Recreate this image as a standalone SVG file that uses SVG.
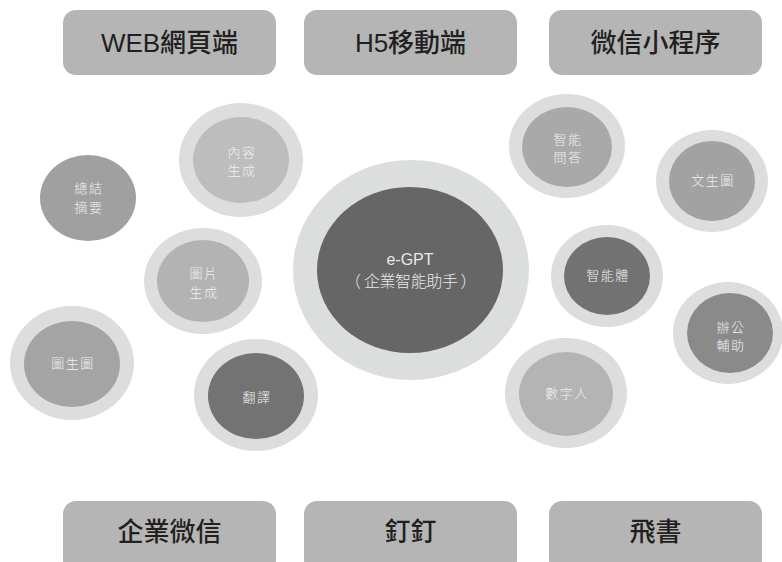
<svg xmlns="http://www.w3.org/2000/svg" width="782" height="562" viewBox="0 0 782 562">
<style>
.box{fill:#b5b5b5}
.btxt{font-family:"Liberation Sans","Noto Sans CJK TC",sans-serif;font-size:26px;fill:#231f20;text-anchor:middle;font-weight:500}
.ring{fill:#dcdddd}
.lbl{font-family:"Noto Sans CJK TC",sans-serif;font-size:13px;fill:#f0f0f0;text-anchor:middle;letter-spacing:1.5px;font-weight:300}
.ctr{font-family:"Liberation Sans","Noto Sans CJK TC",sans-serif;font-size:16px;fill:#e8e8e8;text-anchor:middle;font-weight:300}
.ctrc{font-family:"Noto Sans CJK TC",sans-serif;font-size:16px;fill:#e8e8e8;text-anchor:middle;font-weight:300}
</style>
<rect width="782" height="562" fill="#ffffff"/>
<g id="web"><rect class="box" x="63" y="10" width="213" height="65" rx="13"/><text class="btxt" x="169.5" y="52">WEB網頁端</text></g>
<g id="h5"><rect class="box" x="304" y="10" width="213" height="65" rx="13"/><text class="btxt" x="410.5" y="52">H5移動端</text></g>
<g id="miniprogram"><rect class="box" x="549" y="10" width="213" height="65" rx="13"/><text class="btxt" x="655.5" y="52">微信小程序</text></g>
<g id="wecom"><rect class="box" x="63" y="501" width="213" height="72" rx="13"/><text class="btxt" x="169.5" y="541">企業微信</text></g>
<g id="dingtalk"><rect class="box" x="304" y="501" width="213" height="72" rx="13"/><text class="btxt" x="410.5" y="541">釘釘</text></g>
<g id="feishu"><rect class="box" x="549" y="501" width="213" height="72" rx="13"/><text class="btxt" x="655.5" y="541">飛書</text></g>
<g id="connectors"></g>
<g id="center"><ellipse class="ring" cx="411" cy="270" rx="118" ry="110"/><ellipse cx="410" cy="270" rx="93" ry="83" fill="#666666"/><text class="ctr" x="410" y="265">e-GPT</text><text class="ctrc" x="353 371.9 387.5 403.1 418.7 434.3 449.9 468.5" y="287">（企業智能助手）</text></g>
<g id="content-gen"><ellipse class="ring" cx="241" cy="160" rx="62" ry="57"/><ellipse cx="241" cy="160" rx="48" ry="43" fill="#bdbdbd"/><text class="lbl" x="242" y="157">內容</text><text class="lbl" x="242" y="175">生成</text></g>
<g id="summary"><ellipse cx="88" cy="198" rx="48" ry="43" fill="#a0a0a0"/><text class="lbl" x="89" y="193">總結</text><text class="lbl" x="89" y="212">摘要</text></g>
<g id="image-gen"><ellipse class="ring" cx="203" cy="281" rx="59" ry="53"/><ellipse cx="203" cy="281" rx="46" ry="41" fill="#b3b3b3"/><text class="lbl" x="204" y="278">圖片</text><text class="lbl" x="204" y="297">生成</text></g>
<g id="img2img"><ellipse class="ring" cx="72" cy="363" rx="62" ry="57"/><ellipse cx="72" cy="364" rx="48" ry="43" fill="#a4a4a4"/><text class="lbl" x="73" y="368">圖生圖</text></g>
<g id="translate"><ellipse class="ring" cx="256" cy="395" rx="62" ry="56"/><ellipse cx="256" cy="396" rx="48" ry="43" fill="#737373"/><text class="lbl" x="257" y="402">翻譯</text></g>
<g id="qa"><ellipse class="ring" cx="567" cy="146" rx="58" ry="52"/><ellipse cx="567" cy="147" rx="45" ry="40" fill="#a9a9a9"/><text class="lbl" x="568" y="144">智能</text><text class="lbl" x="568" y="162">問答</text></g>
<g id="text2img"><ellipse class="ring" cx="712" cy="181" rx="56" ry="51"/><ellipse cx="712" cy="181" rx="43" ry="40" fill="#a2a2a2"/><text class="lbl" x="713" y="185">文生圖</text></g>
<g id="agent"><ellipse class="ring" cx="607" cy="276" rx="56" ry="51"/><ellipse cx="607" cy="276" rx="43" ry="39" fill="#727272"/><text class="lbl" x="608" y="280">智能體</text></g>
<g id="office"><ellipse class="ring" cx="728" cy="333" rx="55" ry="51"/><ellipse cx="730" cy="333" rx="43" ry="40" fill="#8a8a8a"/><text class="lbl" x="731" y="332">辦公</text><text class="lbl" x="731" y="350">輔助</text></g>
<g id="digital-human"><ellipse class="ring" cx="566" cy="393" rx="61" ry="55"/><ellipse cx="566" cy="394" rx="47" ry="42" fill="#b4b4b4"/><text class="lbl" x="567" y="398">數字人</text></g>
</svg>
